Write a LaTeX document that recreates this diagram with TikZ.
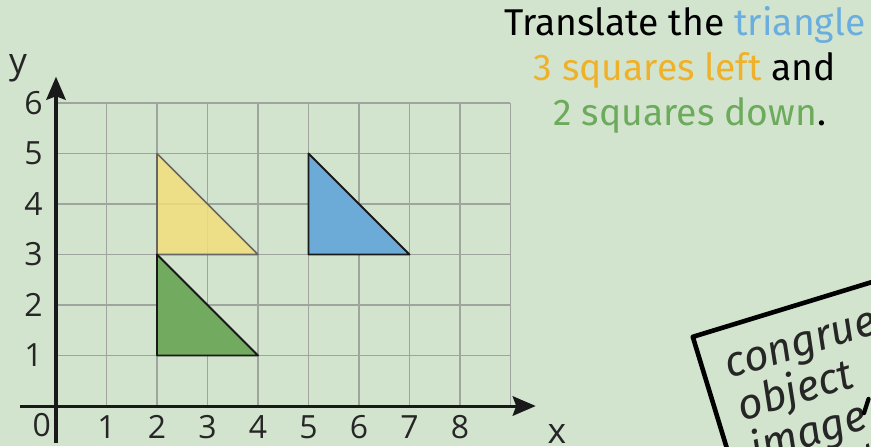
\documentclass[tikz,border=0pt]{standalone}
\usepackage{fontspec}
\setmainfont{Open Sans}
\newfontfamily\titlefont{Fira Sans}
\usepackage{xcolor}
\usetikzlibrary{arrows.meta, positioning}

\definecolor{paper}{HTML}{D3E4CE}
\definecolor{gridgray}{HTML}{A0A49E}
\definecolor{triyellow}{HTML}{F2DE7C}
\definecolor{triblue}{HTML}{6CABD8}
\definecolor{trigreen}{HTML}{72AA60}
\definecolor{txtblue}{HTML}{6AAEDF}
\definecolor{txtorange}{HTML}{F0B12A}
\definecolor{txtgreen}{HTML}{6CAA5C}

\begin{document}
\begin{tikzpicture}[
  >={Stealth[length=13pt,width=11pt,inset=2pt]},
  gridline/.style={gridgray, line width=1.1pt},
  axisline/.style={->, black!90, line width=1.7pt},
  ticklabel/.style={font=\fontsize{18}{20}\selectfont, text=black!85, inner sep=0pt},
  axislabel/.style={font=\fontsize{20}{22}\selectfont, text=black!85, inner sep=0pt},
  titleline/.style={font=\titlefont\fontsize{21}{24}\selectfont, anchor=base, inner sep=0pt},
  triedge/.style={draw=black!90, line width=1.1pt, line join=round},
  card/.style={draw=black, line width=2.6pt, fill=paper, line join=round},
  cardtext/.style={font=\titlefont\itshape\fontsize{24}{21}\selectfont, align=left,
        text=black!85, inner sep=0pt, rotate=17},
]

% --- page ---
\fill[paper] (-1.109,-0.792) rectangle (16.139,8.040);
\useasboundingbox (-1.109,-0.792) rectangle (16.139,8.040);

% --- grid and axes ---
\draw[gridline] (0,0) grid (9,6);
\coordinate (xstart) at (-0.71,0);
\coordinate (xend) at (9.5,0);
\coordinate (ystart) at (0,-0.73);
\coordinate (yend) at (0,6.52);
\draw[axisline] (xstart) -- (xend);
\draw[axisline] (ystart) -- (yend);

\node[axislabel] (ylab) at (-0.75,6.68) {y};
\node[axislabel] (xlab) at (9.92,-0.55) {x};
\node[ticklabel] (orig) at (-0.28,-0.38) {0};
\foreach \k in {1,...,8}{
  \node[ticklabel] (xt\k) at (\k,-0.42) {\k};
}
\foreach \k in {1,...,6}{
  \node[ticklabel, anchor=east] (yt\k) at (-0.26,\k) {\k};
}

% --- triangles ---
\fill[triyellow, fill opacity=0.85] (2,3) -- (2,5) -- (4,3) -- cycle;
\draw[black!60, line width=0.9pt, line join=round] (2,3) -- (2,5) -- (4,3) -- cycle;
\draw[triedge, fill=triblue] (5,3) -- (5,5) -- (7,3) -- cycle;
\draw[triedge, fill=trigreen] (2,1) -- (2,3) -- (4,1) -- cycle;

% --- instruction ---
\node[titleline] (t1) at (12.45,7.33)
  {Translate the \textcolor{txtblue}{triangle}};
\node[titleline] (t2) at ([yshift=-0.89cm]t1.base)
  {\textcolor{txtorange}{3 squares left} and};
\node[titleline] (t3) at ([yshift=-0.89cm,xshift=0.1cm]t2.base)
  {\textcolor{txtgreen}{2 squares down}.};

% --- word card (cut by the page edge) ---
\begin{scope}[shift={(12.61,1.37)}, rotate=17]
  \draw[card] (0,0) rectangle (6,-5);
  \node[cardtext, anchor=north west] (words) at (0.45,-0.45)
    {congruent\\object\\image\\reflect};
\end{scope}
\draw[black, line width=2.4pt, line cap=round] (16.09,0.14) -- (16.0,-0.14);

\end{tikzpicture}
\end{document}
